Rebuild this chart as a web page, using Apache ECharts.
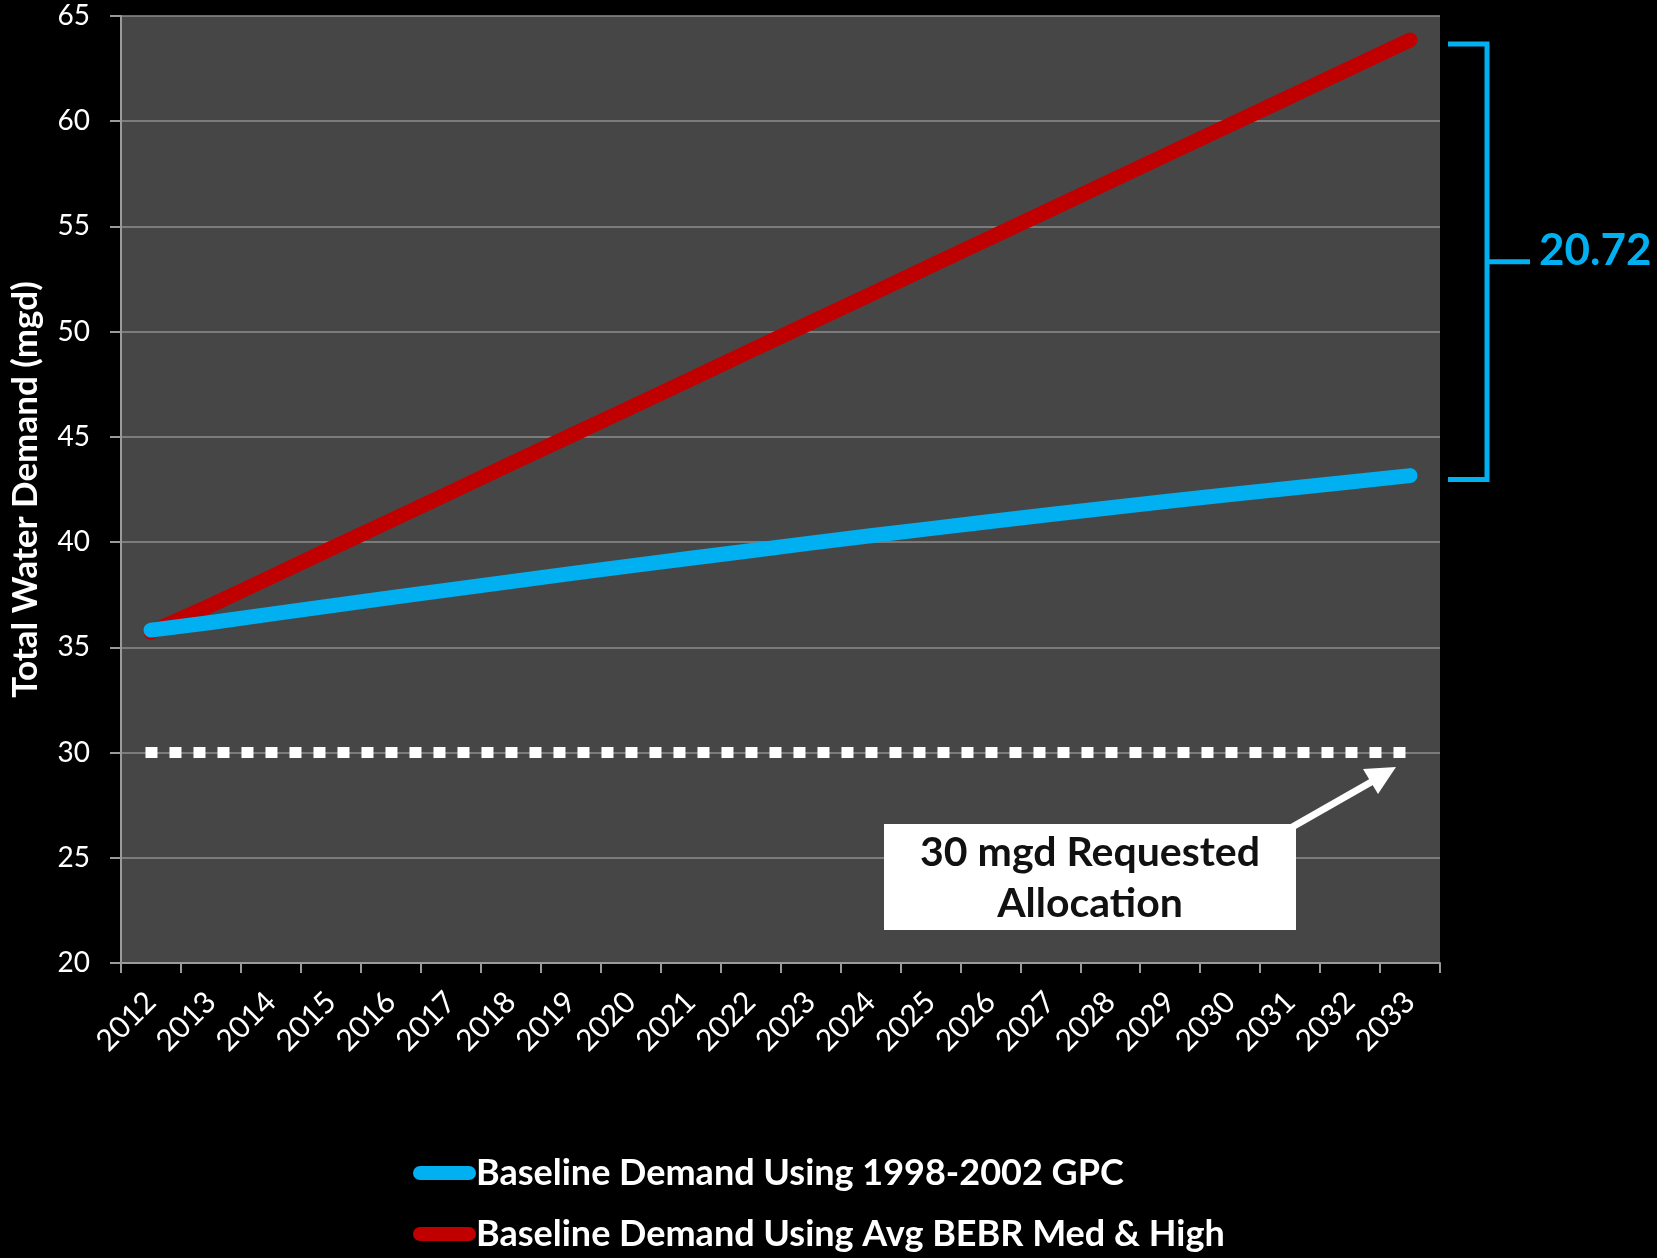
<!DOCTYPE html>
<html>
<head>
<meta charset="utf-8">
<script src="https://cdn.jsdelivr.net/npm/echarts@6/dist/echarts.min.js"></script>
<style>
  html, body { margin: 0; padding: 0; background: #000; }
  #chart { width: 1657px; height: 1258px; }
</style>
</head>
<body>
<div id="chart"></div>
<script>
const years = ['2012','2013','2014','2015','2016','2017','2018','2019','2020','2021','2022',
               '2023','2024','2025','2026','2027','2028','2029','2030','2031','2032','2033'];
const gpcDemand = [35.82, 36.18, 36.58, 36.97, 37.36, 37.74, 38.12, 38.50, 38.87, 39.23, 39.59,
                   39.95, 40.30, 40.64, 40.98, 41.31, 41.63, 41.95, 42.26, 42.56, 42.86, 43.16];
const bebrDemand = [35.72, 37.00, 38.34, 39.69, 41.03, 42.37, 43.72, 45.06, 46.40, 47.74, 49.09,
                    50.43, 51.77, 53.12, 54.46, 55.80, 57.15, 58.49, 59.83, 61.17, 62.52, 63.86];
const allocation = 30;
const yTicks = { min: 20, max: 65, interval: 5 };
const seriesNames = ['Baseline Demand Using 1998-2002 GPC', 'Baseline Demand Using Avg BEBR Med & High'];
const gapLabel = '20.72';
const calloutText = '30 mgd Requested\nAllocation';

const FONT = 'Lato, "Open Sans", sans-serif';
const BLUE = '#00B0F0';
const RED = '#C00000';

const chart = echarts.init(document.getElementById('chart'), null, { renderer: 'canvas' });

function legendFor(name, top) {
  return {
    orient: 'horizontal',
    left: 413, top: top, padding: 0,
    data: [name],
    icon: 'path://M7,0 H56 A7,7 0 0 1 56,14 H7 A7,7 0 0 1 7,0 Z',
    itemWidth: 63, itemHeight: 15,
    textStyle: { color: '#ffffff', fontSize: 36, fontWeight: 'bold', fontFamily: FONT, lineHeight: 40, padding: [0,0,0,-5] },
    selectedMode: false
  };
}

const option = {
  backgroundColor: '#000000',
  animation: false,
  textStyle: { fontFamily: FONT },
  grid: {
    left: 121, right: 217, top: 16, bottom: 295,
    show: true, backgroundColor: '#464646', borderWidth: 0
  },
  legend: [legendFor(seriesNames[0], 1153), legendFor(seriesNames[1], 1214)],
  xAxis: {
    type: 'category',
    data: years,
    boundaryGap: true,
    axisLine: { show: true, lineStyle: { color: '#9a9a9a', width: 2 } },
    axisTick: { show: true, interval: 0, length: 10, lineStyle: { color: '#9a9a9a', width: 2 } },
    axisLabel: { interval: 0, rotate: 45, color: '#ffffff', fontSize: 30, fontFamily: FONT, margin: 34 },
    splitLine: { show: false }
  },
  yAxis: {
    type: 'value',
    min: yTicks.min, max: yTicks.max, interval: yTicks.interval,
    name: 'Total Water Demand (mgd)',
    nameLocation: 'middle',
    nameGap: 78,
    nameTextStyle: { color: '#ffffff', fontSize: 35, fontWeight: 'bold', fontFamily: FONT },
    axisLine: { show: true, lineStyle: { color: '#9a9a9a', width: 2 } },
    axisTick: { show: true, length: 11, lineStyle: { color: '#9a9a9a', width: 2 } },
    axisLabel: { color: '#ffffff', fontSize: 28, fontFamily: FONT, margin: 31 },
    splitLine: { show: true, lineStyle: { color: '#8e8e8e', width: 1.5 } }
  },
  series: [
    {
      name: seriesNames[0], type: 'line', data: gpcDemand, z: 4,
      showSymbol: false, symbol: 'none',
      lineStyle: { color: BLUE, width: 15, cap: 'round', join: 'round' },
      itemStyle: { color: BLUE }
    },
    {
      name: seriesNames[1], type: 'line', data: bebrDemand, z: 3,
      showSymbol: false, symbol: 'none',
      lineStyle: { color: RED, width: 15, cap: 'round', join: 'round' },
      itemStyle: { color: RED }
    },
    {
      name: 'allocation', type: 'line', data: [], z: 2,
      markLine: {
        silent: true,
        symbol: ['none', 'none'],
        label: { show: false },
        lineStyle: { color: '#ffffff', width: 11, type: [1, 23], cap: 'square' },
        data: [[{ coord: [years[0], allocation] }, { coord: [years[years.length - 1], allocation] }]]
      }
    }
  ]
};

chart.setOption(option);

// Annotation graphics positioned from the data through the chart's scales
const last = years.length - 1;
const pTop = chart.convertToPixel({ gridIndex: 0 }, [years[last], bebrDemand[last]]);
const pBot = chart.convertToPixel({ gridIndex: 0 }, [years[last], gpcDemand[last]]);
const yTop = pTop[1] + 4, yBot = pBot[1] + 4;
const xBar = 1487, yMid = (yTop + yBot) / 2;

chart.setOption({
  graphic: [
    { type: 'polyline', z: 10, shape: { points: [[1448, yTop], [xBar, yTop], [xBar, yBot], [1448, yBot]] },
      style: { stroke: BLUE, lineWidth: 5, fill: null } },
    { type: 'line', z: 10, shape: { x1: xBar, y1: yMid, x2: 1530, y2: yMid },
      style: { stroke: BLUE, lineWidth: 5 } },
    { type: 'text', z: 10, style: { text: gapLabel, x: 1539, y: yMid - 11, align: 'left', verticalAlign: 'middle',
      font: 'bold 44px ' + FONT, fill: BLUE } },
    // arrow
    { type: 'line', z: 10, shape: { x1: 1280, y1: 834, x2: 1373, y2: 781 },
      style: { stroke: '#ffffff', lineWidth: 7 } },
    { type: 'polygon', z: 10, shape: { points: [[1396, 767], [1378, 794], [1363, 769]] },
      style: { fill: '#ffffff' } },
    // callout box
    { type: 'rect', z: 11, shape: { x: 884, y: 824, width: 412, height: 106 },
      style: { fill: '#ffffff' } },
    { type: 'text', z: 12, style: { text: calloutText, x: 1090, y: 878, align: 'center', verticalAlign: 'middle',
      font: 'bold 41px ' + FONT, lineHeight: 51, fill: '#111111' } }
  ]
});
</script>
</body>
</html>
